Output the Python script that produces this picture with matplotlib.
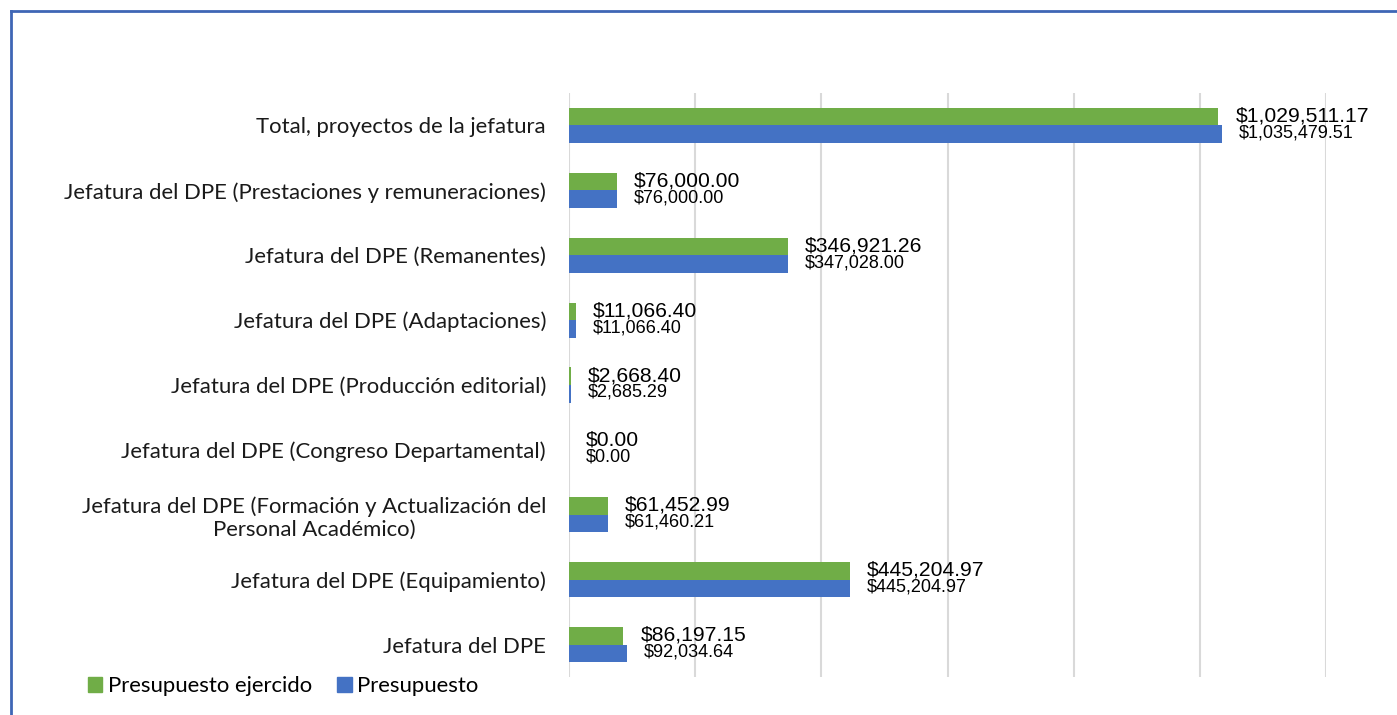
import matplotlib.pyplot as plt
from matplotlib.lines import Line2D
from matplotlib.patches import Patch
import numpy as np

categories = [
    "Jefatura del DPE",
    "Jefatura del DPE (Equipamiento)",
    "Jefatura del DPE (Formación y Actualización del\nPersonal Académico)",
    "Jefatura del DPE (Congreso Departamental)",
    "Jefatura del DPE (Producción editorial)",
    "Jefatura del DPE (Adaptaciones)",
    "Jefatura del DPE (Remanentes)",
    "Jefatura del DPE (Prestaciones y remuneraciones)",
    "Total, proyectos de la jefatura",
]
presupuesto = [92034.64, 445204.97, 61460.21, 0.00, 2685.29, 11066.40, 347028.00, 76000.00, 1035479.51]
ejercido = [86197.15, 445204.97, 61452.99, 0.00, 2668.40, 11066.40, 346921.26, 76000.00, 1029511.17]

green = "#70AD47"
blue = "#4472C4"
label_font = ["Lato", "DejaVu Sans"]
value_font = ["Liberation Sans", "DejaVu Sans"]

fig = plt.figure(figsize=(13.97, 7.15), dpi=100)
ax = fig.add_axes([569 / 1397, 1 - 677 / 715, (1326 - 569) / 1397, (677 - 93) / 715])

y = np.arange(len(categories))
h = 0.27
ax.barh(y + h / 2, ejercido, height=h, color=green, zorder=3)
ax.barh(y - h / 2, presupuesto, height=h, color=blue, zorder=3)

ax.set_xlim(0, 1200000)
ax.set_ylim(-0.5, len(categories) - 0.5)
ax.set_xticks(np.arange(0, 1200001, 200000))
ax.xaxis.grid(True, color="#D9D9D9", linewidth=1.5, zorder=0)
ax.tick_params(axis="x", length=0, labelbottom=False)
ax.tick_params(axis="y", length=0, pad=16.5)
for s in ax.spines.values():
    s.set_visible(False)

ax.set_yticks(y)
ax.set_yticklabels(categories, fontsize=15.9, family=label_font, color="#1a1a1a")
for t in ax.get_yticklabels():
    t.set_multialignment("center")

# offset in data units for ~17 px
off = 17 * 1200000 / (1326 - 569)
for yi, v in zip(y, ejercido):
    ax.text(v + off, yi + h / 2 + 0.01, f"${v:,.2f}", va="center", ha="left",
            fontsize=15.2, family=value_font, color="black")
for yi, v in zip(y, presupuesto):
    ax.text(v + off, yi - h / 2 + 0.02, f"${v:,.2f}", va="center", ha="left",
            fontsize=13, family=value_font, color="black")

handles = [Patch(color=green, label="Presupuesto ejercido"), Patch(color=blue, label="Presupuesto")]
fig.legend(handles=handles, loc="center left", bbox_to_anchor=(68 / 1397, 1 - 686 / 715),
           ncol=2, frameon=False, prop={"family": label_font, "size": 15.9},
           handlelength=0.65, handleheight=0.65, handletextpad=0.25, columnspacing=1.15)

# outer frame (left and top edges visible)
fig.add_artist(Line2D([10.5 / 1397, 10.5 / 1397], [0, 1 - 10.5 / 715], color="#3F66B5", linewidth=2))
fig.add_artist(Line2D([10.5 / 1397, 1], [1 - 10.5 / 715, 1 - 10.5 / 715], color="#3F66B5", linewidth=2))

fig.savefig("out.png", dpi=100)
